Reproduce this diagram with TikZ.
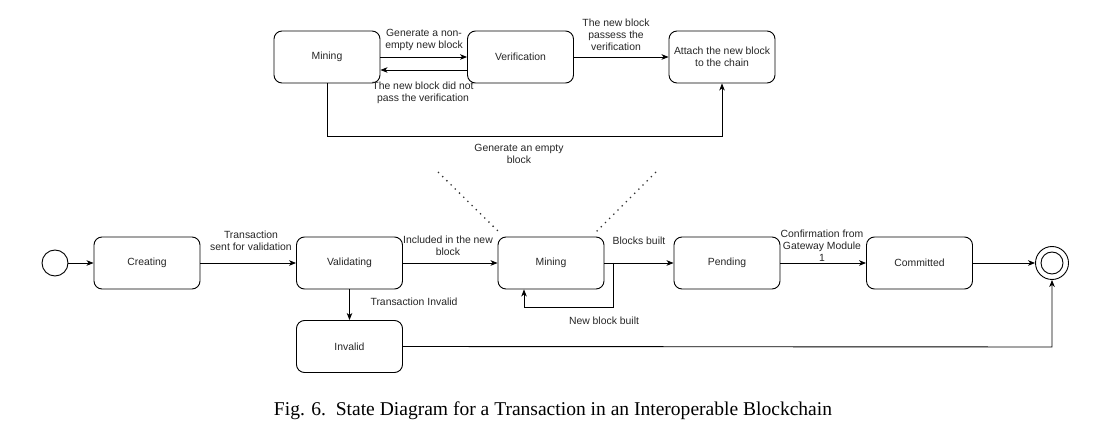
\documentclass[tikz,border=0pt]{standalone}
\usepackage{fontspec}
\usepackage{graphicx}
\setmainfont{Liberation Sans}
\newfontfamily\capfont{Liberation Serif}
\usetikzlibrary{arrows.meta,calc}
\begin{document}
\begin{tikzpicture}[x=1pt,y=-1pt,
  state/.style={draw=black, line width=0.9pt, rounded corners=8pt, minimum width=106pt, minimum height=52pt, inner sep=0pt, align=center, font=\fontsize{10.4}{12}\selectfont, text=black!85},
  lbl/.style={font=\fontsize{10.4}{12}\selectfont, align=center, inner sep=0pt, text=black!85},
  conn/.style={draw=black, line width=0.9pt},
  arr/.style={conn, -{Stealth[length=7pt,width=5.5pt,inset=2pt]}},
  dotline/.style={line width=1.3pt, dash pattern=on 1.3pt off 4.6pt, draw=black!80}
]
\fill[white] (0,0) rectangle (1101,438);
\useasboundingbox (0,0) rectangle (1101,438);

% ---- top detail ----
\node[state] (mt) at (327,57) {Mining};
\node[state] (vt) at (520.5,57) {Verification};
\node[state] (at) at (722,57) {Attach the new block\\to the chain};

\draw[arr] (mt.east) -- (vt.west);
\draw[arr] ([yshift=-13pt]vt.west) -- ([yshift=-13pt]mt.east);
\draw[arr] (vt.east) -- (at.west);
\coordinate (tl) at (327,136);
\coordinate (tr) at (722,136);
\draw[arr] (mt.south) -- (tl) -- (tr) -- (at.south);

\node[lbl] (l1) at (424,40) {Generate a non-\\empty new block};
\node[lbl] (l2) at (423,93) {The new block did not\\pass the verification};
\node[lbl] (l3) at (616,35) {The new block\\passess the\\verification};
\node[lbl] (l4) at (519,154) {Generate an empty\\block};

% ---- dotted zoom lines ----
\coordinate (d1a) at (438,172);
\coordinate (d1b) at (499,232);
\coordinate (d2a) at (656,172);
\coordinate (d2b) at (596,232);
\draw[dotline] (d1a) -- (d1b);
\draw[dotline] (d2a) -- (d2b);

% ---- main row ----
\node[draw=black, line width=0.9pt, circle, minimum size=26pt, inner sep=0pt] (st) at (55,263) {};
\node[state] (cr) at (147,263) {Creating};
\node[state] (va) at (349.5,263) {Validating};
\node[state] (mi) at (551,263) {Mining};
\node[state] (pe) at (727,263) {Pending};
\node[state] (co) at (919.5,263) {Committed};
\node[draw=black, line width=0.9pt, circle, minimum size=33pt, inner sep=0pt] (en) at (1052,263) {};
\node[draw=black, line width=0.9pt, circle, minimum size=22pt, inner sep=0pt] (eni) at (1052,263) {};
\node[state] (inv) at (349.5,346.5) {Invalid};

\draw[arr] (st.east) -- (cr.west);
\draw[arr] (cr.east) -- (va.west);
\draw[arr] (va.east) -- (mi.west);
\draw[arr] (mi.east) -- (pe.west);
\draw[arr] (pe.east) -- (co.west);
\draw[arr] (co.east) -- (en.west);
\draw[arr] (va.south) -- (inv.north);
\coordinate (ir) at (1052,347);
\draw[arr] (inv.east) -- (ir) -- (en.south);
\coordinate (lp) at (613,263);
\coordinate (lb) at (524,307);
\draw[arr] (lp) |- (lb) -- (lb |- mi.south);

\node[lbl] (m1) at (251,241) {Transaction\\sent for validation};
\node[lbl] (m2) at (448,246) {Included in the new\\block};
\node[lbl] (m3) at (639,241) {Blocks built};
\node[lbl] (m4) at (822,246) {Confirmation from\\Gateway Module\\1};
\node[lbl] (m5) at (414,302) {Transaction Invalid};
\node[lbl] (m6) at (604,321) {New block built};

% ---- caption ----
\node[inner sep=0pt] (cap) at (553,411) {\resizebox{558pt}{!}{\capfont Fig. 6.\ \ State Diagram for a Transaction in an Interoperable Blockchain}};
\end{tikzpicture}
\end{document}
